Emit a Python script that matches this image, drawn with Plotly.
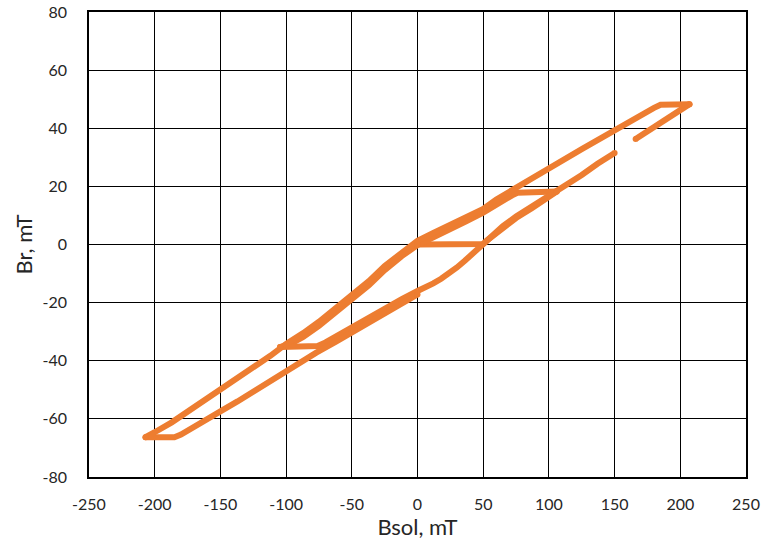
import plotly.graph_objects as go

# Hysteresis sweep of Br against the solenoid field Bsol (both in mT),
# split into legs at each reversal of the sweep.

# leg 1: initial rise from the demagnetised state
leg1_x = [0, 25, 47, 50, 53, 58, 65, 75, 87, 100, 106]
leg1_y = [0, 0, 0, 0.2, 1.4, 3.3, 5.8, 9.1, 12.5, 16.1, 18.2]

# leg 2: minor-loop descent
leg2_x = [106, 80, 76, 72, 65, 60, 50, 37, 25, 12, 0, -12, -25, -37, -50, -62, -75, -87, -95, -104.6]
leg2_y = [18.2, 18.2, 17.8, 16.9, 15.0, 13.7, 11.0, 8.0, 5.3, 2.6, -0.2, -4.0, -8.8, -14.0, -19.0, -23.5, -28.0, -31.8, -33.8, -35.3]

# leg 3: rise to the positive extreme (samples missing between 150 and 166 mT)
leg3_x = [-104.6, -80, -76, -70, -62, -50, -37, -25, -12, 0, 6, 12, 18, 24, 30, 36, 42, 47, 52, 58, 65, 75, 87,
          100, 112, 125, 137, 150, None, 166, 175, 187, 200, 207]
leg3_y = [-35.3, -35.3, -34.9, -33.7, -31.6, -28.4, -25.1, -21.9, -18.8, -16.0, -14.8, -13.4, -11.8, -10.0, -7.9,
          -5.6, -3.1, -0.9, 1.2, 3.6, 6.3, 9.6, 13.0, 16.6, 20.1, 23.9, 27.8, 31.5, None, 36.3, 38.9, 42.4, 46.3, 48.3]

# leg 4: full descent to the negative extreme
leg4_x = [207, 190, 185, 180, 170, 150, 125, 100, 75, 60, 50, 37, 25, 12, 0, -12, -25, -37, -50, -62,
          -75, -87, -100, -112, -125, -137, -150, -162, -175, -187, -200, -207]
leg4_y = [48.3, 48.5, 48.1, 47.0, 44.6, 39.3, 32.8, 26.3, 19.8, 15.5, 12.2, 9.2, 6.6, 4.0, 1.3, -2.6,
          -7.4, -12.6, -17.6, -22.2, -26.6, -30.5, -34.2, -38.3, -42.3, -46.3, -50.2, -54.0, -57.7, -61.2,
          -64.6, -66.3]

# leg 5: return rise back to Bsol = 0
leg5_x = [-207, -190, -185, -180, -172, -162, -150, -137, -125, -112, -100, -87, -77, -62, -50, -37, -25, -12, 0]
leg5_y = [-66.3, -66.5, -66.3, -65.4, -63.4, -60.6, -57.4, -54.0, -50.6, -47.0, -43.4, -39.8, -37.2, -33.4,
          -30.2, -26.8, -23.6, -20.4, -17.2]

x_ticks = [-250, -200, -150, -100, -50, 0, 50, 100, 150, 200, 250]
y_ticks = [-80, -60, -40, -20, 0, 20, 40, 60, 80]

ORANGE = "#ED7D31"
LINE_W = 6
legs = [(leg1_x, leg1_y), (leg2_x, leg2_y), (leg3_x, leg3_y), (leg4_x, leg4_y), (leg5_x, leg5_y)]

fig = go.Figure()

# Round off the ends of every drawn run (legs and the gap in leg 3)
cap_x, cap_y = [], []
for xs, ys in legs:
    fig.add_trace(go.Scatter(x=xs, y=ys, mode="lines", connectgaps=False,
                             line=dict(color=ORANGE, width=LINE_W),
                             hoverinfo="skip", showlegend=False))
    run = []
    for xv, yv in list(zip(xs, ys)) + [(None, None)]:
        if xv is None:
            if run:
                cap_x += [run[0][0], run[-1][0]]
                cap_y += [run[0][1], run[-1][1]]
            run = []
        else:
            run.append((xv, yv))

fig.add_trace(go.Scatter(x=cap_x, y=cap_y, mode="markers",
                         marker=dict(color=ORANGE, size=LINE_W, line=dict(width=0)),
                         hoverinfo="skip", showlegend=False))

FONT = "Lato, 'Open Sans', sans-serif"
TEXT_COLOR = "#262626"
axis_common = dict(
    showgrid=True, gridcolor="#000000", gridwidth=1,
    zeroline=True, zerolinecolor="#000000", zerolinewidth=1,
    showline=True, mirror=True, linecolor="#000000", linewidth=1.5,
    ticks="", automargin=False,
    tickfont=dict(family=FONT, size=16, color=TEXT_COLOR),
)

fig.update_xaxes(range=[-250, 250], tickvals=x_ticks, ticktext=[str(v) for v in x_ticks],
                 ticklabelstandoff=12,
                 title=dict(text="Bsol, mT", standoff=3,
                            font=dict(family=FONT, size=22, color=TEXT_COLOR)),
                 **axis_common)
fig.update_yaxes(range=[-80, 80], tickvals=y_ticks, ticktext=[str(v) for v in y_ticks],
                 ticklabelstandoff=17,
                 title=dict(text="Br, mT", standoff=4,
                            font=dict(family=FONT, size=22, color=TEXT_COLOR)),
                 **axis_common)

fig.update_layout(width=777, height=545,
                  margin=dict(l=89, r=31, t=12, b=68, pad=0),
                  plot_bgcolor="white", paper_bgcolor="white",
                  showlegend=False)

fig.write_html("out.html")
